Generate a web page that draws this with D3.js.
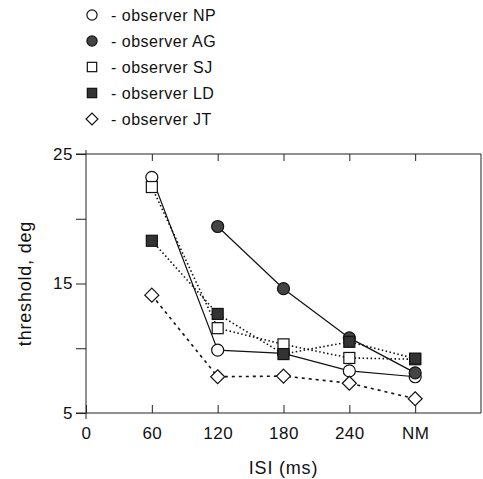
<!DOCTYPE html>
<html lang="en">
<head>
    <meta charset="UTF-8">
    <title>Threshold vs ISI</title>
    <script src="https://cdn.jsdelivr.net/npm/d3@7"></script>
    <style>
        body { margin: 0; background: #fff; }
        text { font-family: "Liberation Sans", Arial, sans-serif; fill: #111; }
        .axis line, .axis path { stroke: #222; }
    </style>
</head>
<body>
<script>
    // data
    const isi = [60, 120, 180, 240, 300];           // 300 = "NM"
    const xTicks = [0, 60, 120, 180, 240, 300];
    const xTickLabels = ["0", "60", "120", "180", "240", "NM"];
    const yTicks = [5, 10, 15, 20, 25];
    const yTickLabels = ["5", "", "15", "", "25"];

    const npVals = [23.2, 9.85, 9.6, 8.25, 7.8];
    const agVals = [null, 19.4, 14.6, 10.8, 8.1];
    const sjVals = [22.45, 11.55, 10.3, 9.25, 9.15];
    const ldVals = [18.3, 12.65, 9.55, 10.5, 9.2];
    const jtVals = [14.1, 7.8, 7.85, 7.3, 6.1];

    const series = [
        {name: "NP", vals: npVals, shape: "circle", fill: "#fff", dash: null},
        {name: "AG", vals: agVals, shape: "circle", fill: "#444", dash: null},
        {name: "SJ", vals: sjVals, shape: "square", fill: "#fff", dash: "1.5,2.5"},
        {name: "LD", vals: ldVals, shape: "square", fill: "#333", dash: "1.5,2.5"},
        {name: "JT", vals: jtVals, shape: "diamond", fill: "#fff", dash: "3,4"}
    ];

    const dim = {width: 483, height: 479};
    const plot = {left: 86, right: 481, top: 154, bottom: 413};

    const svg = d3.select("body").append("svg")
        .attr("width", dim.width)
        .attr("height", dim.height);

    const x = d3.scaleLinear().domain([0, 360]).range([plot.left, plot.right]);
    const y = d3.scaleLinear().domain([5, 25]).range([plot.bottom, plot.top]);

    // frame
    svg.append("line").attr("x1", 76).attr("x2", plot.right).attr("y1", plot.top).attr("y2", plot.top)
        .attr("stroke", "#222");
    svg.append("line").attr("x1", plot.right).attr("x2", plot.right).attr("y1", plot.top).attr("y2", plot.bottom)
        .attr("stroke", "#222");

    // bottom axis, ticks inside
    const xAxis = svg.append("g").attr("class", "axis")
        .attr("transform", `translate(0,${plot.bottom})`)
        .call(d3.axisBottom(x).tickValues(xTicks).tickSize(-8).tickPadding(14)
            .tickFormat((d, i) => xTickLabels[i]));
    xAxis.select(".domain").remove();
    xAxis.append("line").attr("x1", 76).attr("x2", plot.right).attr("stroke", "#222");
    xAxis.selectAll("text").style("font-size", "17px").style("letter-spacing", "0.5px");

    // top ticks, inside
    svg.append("g").attr("class", "axis")
        .attr("transform", `translate(0,${plot.top})`)
        .call(d3.axisTop(x).tickValues(xTicks.slice(1)).tickSize(-7).tickFormat(""))
        .select(".domain").remove();

    // left axis, ticks outside
    const yAxis = svg.append("g").attr("class", "axis")
        .attr("transform", `translate(${plot.left},0)`)
        .call(d3.axisLeft(y).tickValues(yTicks).tickSize(10).tickPadding(3)
            .tickFormat((d, i) => yTickLabels[i]));
    yAxis.select(".domain").attr("d", `M0,${plot.top - 4}V${plot.bottom + 6}`);
    yAxis.selectAll("text").style("font-size", "17px").style("letter-spacing", "0.5px");

    // lines
    const line = d3.line()
        .defined(d => d.v != null)
        .x(d => x(d.x))
        .y(d => y(d.v));

    series.forEach(s => {
        const pts = isi.map((v, i) => ({x: v, v: s.vals[i]}));
        svg.append("path")
            .datum(pts)
            .attr("d", line)
            .attr("fill", "none")
            .attr("stroke", "#111")
            .attr("stroke-width", s.dash ? 1.6 : 1.2)
            .attr("stroke-dasharray", s.dash);
    });

    function drawMarker(g, shape, fill, cx, cy, k = 1) {
        if (shape === "circle") {
            g.append("circle").attr("cx", cx).attr("cy", cy).attr("r", 6 * k)
                .attr("fill", fill).attr("stroke", "#111").attr("stroke-width", 1.2);
        } else if (shape === "square") {
            const h = 5.5 * k;
            g.append("rect").attr("x", cx - h).attr("y", cy - h)
                .attr("width", 2 * h).attr("height", 2 * h)
                .attr("fill", fill).attr("stroke", "#111").attr("stroke-width", 1.2);
        } else {
            const h = 7 * k;
            g.append("path").attr("d", `M${cx},${cy - h}L${cx + h},${cy}L${cx},${cy + h}L${cx - h},${cy}Z`)
                .attr("fill", fill).attr("stroke", "#111").attr("stroke-width", 1.2);
        }
    }

    // markers
    const marks = svg.append("g");
    series.forEach(s => {
        isi.forEach((v, i) => {
            if (s.vals[i] == null) return;
            drawMarker(marks, s.shape, s.fill, x(v), y(s.vals[i]));
        });
    });

    // legend
    const legend = svg.append("g");
    series.forEach((s, i) => {
        const ly = 15 + i * 26;
        drawMarker(legend, s.shape, s.fill, 92, ly, 0.85);
        legend.append("text")
            .attr("x", 111).attr("y", ly + 5.5)
            .style("font-size", "16px")
            .style("letter-spacing", "0.5px")
            .text("- observer " + s.name);
    });

    // axis titles
    svg.append("text")
        .attr("x", x(180)).attr("y", 474)
        .attr("text-anchor", "middle")
        .style("font-size", "18px")
        .style("letter-spacing", "0.8px")
        .text("ISI (ms)");

    svg.append("text")
        .attr("transform", `translate(31,${y(15)}) rotate(-90)`)
        .attr("text-anchor", "middle")
        .style("font-size", "18px")
        .style("letter-spacing", "0.8px")
        .text("threshold, deg");
</script>
</body>
</html>
